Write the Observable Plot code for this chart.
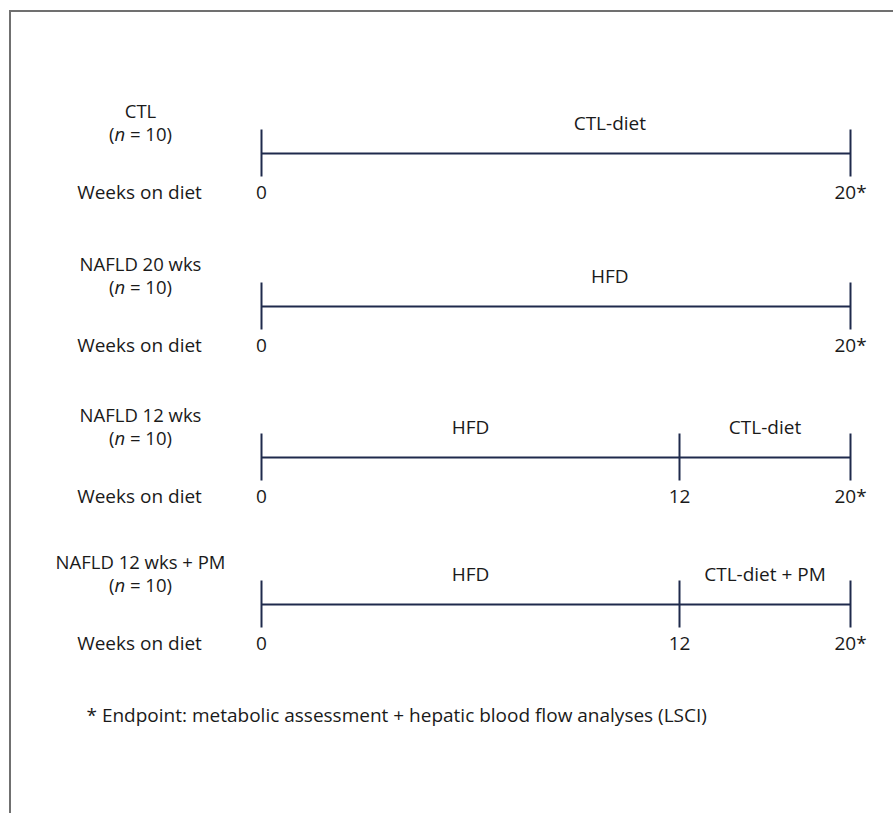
<!DOCTYPE html>
<html>
<head>
<meta charset="utf-8">
<script src="https://cdn.jsdelivr.net/npm/d3@7"></script>
<script src="https://cdn.jsdelivr.net/npm/@observablehq/plot@0.6"></script>
<style>
  html, body { margin: 0; padding: 0; background: #fff; overflow: hidden; }
  #wrap { position: relative; width: 893px; height: 813px; }
  #chart svg { display: block; }
  #border { position: absolute; left: 9px; top: 10px; width: 1000px; height: 1000px;
            border-top: 2px solid #707070; border-left: 2px solid #707070; pointer-events: none; }
</style>
</head>
<body>
<div id="wrap"><div id="chart"></div><div id="border"></div></div>
<script>
// ---- data ----
const groups = ["CTL", "NAFLD 20 wks", "NAFLD 12 wks", "NAFLD 12 wks + PM"];
const groupN = [10, 10, 10, 10];

const phaseGroup = ["CTL", "NAFLD 20 wks", "NAFLD 12 wks", "NAFLD 12 wks", "NAFLD 12 wks + PM", "NAFLD 12 wks + PM"];
const phaseStart = [0, 0, 0, 12, 0, 12];
const phaseEnd   = [20, 20, 12, 20, 12, 20];
const phaseLabel = ["CTL-diet", "HFD", "HFD", "CTL-diet", "HFD", "CTL-diet + PM"];

const tickGroup = ["CTL", "CTL", "NAFLD 20 wks", "NAFLD 20 wks", "NAFLD 12 wks", "NAFLD 12 wks", "NAFLD 12 wks", "NAFLD 12 wks + PM", "NAFLD 12 wks + PM", "NAFLD 12 wks + PM"];
const tickWeek  = [0, 20, 0, 20, 0, 12, 20, 0, 12, 20];
const tickLabel = ["0", "20*", "0", "20*", "0", "12", "20*", "0", "12", "20*"];

const weeksLabel = "Weeks on diet";
const footnote = "* Endpoint: metabolic assessment + hepatic blood flow analyses (LSCI)";

// ---- tables ----
const row = g => groups.indexOf(g);
const phases = phaseGroup.map((g, i) => ({row: row(g), start: phaseStart[i], end: phaseEnd[i], label: phaseLabel[i], mid: (phaseStart[i] + phaseEnd[i]) / 2}));
const ticks = tickGroup.map((g, i) => ({row: row(g), week: tickWeek[i], label: tickLabel[i]}));
const rows = groups.map((g, i) => ({row: i, group: g, n: `(n = ${groupN[i]})`}));

const FONT = "'Open Sans', 'Noto Sans', sans-serif";
const INK = "#1a1a1a";
const LINE = "#1f2a4c";
const FS = 19;
const FS_GROUP = 18.5;

const chart = Plot.plot({
  width: 893,
  height: 813,
  margin: 0,
  style: {fontFamily: FONT, background: "#fff", overflow: "hidden"},
  x: {type: "linear", domain: [0, 12, 20], range: [261, 679, 850], axis: null},
  y: {type: "linear", domain: [0, 1, 2, 3], range: [153, 306, 457, 604], axis: null},
  marks: [
    Plot.ruleY(phases, {y: "row", x1: "start", x2: "end", stroke: LINE, strokeWidth: 2}),
    Plot.ruleX(ticks, {x: "week", y1: "row", y2: "row", insetTop: -23.5, insetBottom: -23.5, stroke: LINE, strokeWidth: 2}),
    Plot.text(phases, {x: "mid", y: "row", text: "label", dy: -30, fill: INK, fontSize: FS, lineAnchor: "middle"}),
    Plot.text(ticks, {x: "week", y: "row", text: "label", dy: 39, fill: INK, fontSize: FS, lineAnchor: "middle"}),
    Plot.text(rows, {frameAnchor: "left", dx: 140, y: "row", text: "group", dy: -41.5, fill: INK, fontSize: FS_GROUP, textAnchor: "middle", lineAnchor: "middle"}),
    Plot.text(rows, {frameAnchor: "left", dx: 140, y: "row", text: "n", dy: -18, fill: INK, fontSize: FS_GROUP, textAnchor: "middle", lineAnchor: "middle"}),
    Plot.text(rows, {frameAnchor: "left", dx: 139, y: "row", text: () => weeksLabel, dy: 39, fill: INK, fontSize: FS, textAnchor: "middle", lineAnchor: "middle"}),
    Plot.text([footnote], {frameAnchor: "top-left", dx: 86, dy: 715, text: d => d, fill: INK, fontSize: FS, textAnchor: "start", lineAnchor: "middle"})
  ]
});

// italicise the "n" in "(n = 10)" (plain text nodes around one italic tspan)
const ns = "http://www.w3.org/2000/svg";
chart.querySelectorAll("text").forEach(t => {
  const m = /^\(n = (\d+)\)$/.exec(t.textContent);
  if (m && t.children.length === 0) {
    t.textContent = "";
    const b = document.createElementNS(ns, "tspan");
    b.textContent = "n";
    b.setAttribute("font-style", "italic");
    t.append(document.createTextNode("("), b, document.createTextNode(` = ${m[1]})`));
  }
});

document.getElementById("chart").append(chart);
</script>
</body>
</html>
